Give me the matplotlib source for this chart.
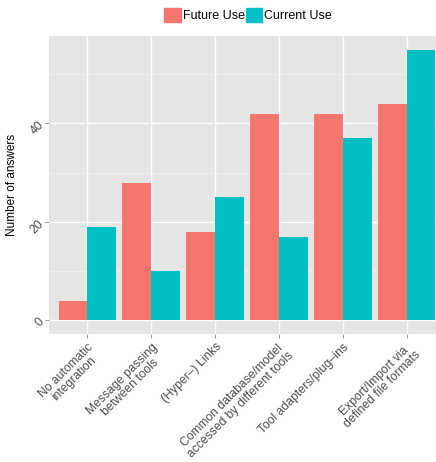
import numpy as np
import matplotlib.pyplot as plt
from matplotlib.patches import Patch

# Integration approaches, answers per category
categories = ["No automatic\nintegration",
              "Message passing\nbetween tools",
              "(Hyper\u2013) Links",
              "Common database/model\naccessed by different tools",
              "Tool adapters/plug\u2013ins",
              "Export/Import via\ndefined file formats"]
future_use = [4, 28, 18, 42, 42, 44]
current_use = [19, 10, 25, 17, 37, 55]
series_names = ["Future Use", "Current Use"]

col_future = "#F8766D"
col_current = "#00BFC4"

plt.rcParams['font.family'] = ['Liberation Sans', 'DejaVu Sans']

fig = plt.figure(figsize=(4.36, 4.62), dpi=100)
W, H = 436, 462
# panel extends a bit past the right edge, as in the reference
ax = fig.add_axes([49 / W, 1 - 334 / H, (445 - 49) / W, (334 - 36) / H])

x = np.arange(len(categories))
bw = 0.45
ax.bar(x - bw / 2, future_use, bw, color=col_future, zorder=3)
ax.bar(x + bw / 2, current_use, bw, color=col_current, zorder=3)

ymax = max(max(future_use), max(current_use))
ax.set_ylim(-0.05 * ymax, 1.05 * ymax)
ax.set_xlim(-0.6, len(categories) - 1 + 0.6)

ax.set_facecolor("#E5E5E5")
for s in ax.spines.values():
    s.set_visible(False)

ax.set_yticks([0, 20, 40])
ax.set_yticks([10, 30, 50], minor=True)
ax.set_xticks(x)
ax.grid(True, which="major", color="white", lw=1.0, zorder=1)
ax.grid(True, which="minor", axis="y", color="#F2F2F2", lw=0.6, zorder=1)
ax.tick_params(which="minor", length=0)
ax.tick_params(which="major", color="#7F7F7F", length=3, width=0.6,
               labelsize=8.7, labelcolor="#4D4D4D", pad=2)

ax.set_yticklabels(["0", "20", "40"], rotation=45, ha="right",
                   rotation_mode="anchor", va="center")
ax.set_xticklabels(categories, rotation=45, ha="right", va="top",
                   rotation_mode="anchor", multialignment="center",
                   linespacing=0.95)
ax.set_ylabel("Number of answers", fontsize=8.5)
ax.yaxis.set_label_coords(-31 / 396, 0.5)

handles = [Patch(color=col_future), Patch(color=col_current)]
fig.legend(handles, series_names, loc="center", bbox_to_anchor=(248 / W, 1 - 15 / H),
           ncol=2, frameon=False, fontsize=9, handlelength=1.3, handleheight=1.3,
           handletextpad=0.15, columnspacing=0.1, borderpad=0)

fig.savefig("out.png", dpi=100)
